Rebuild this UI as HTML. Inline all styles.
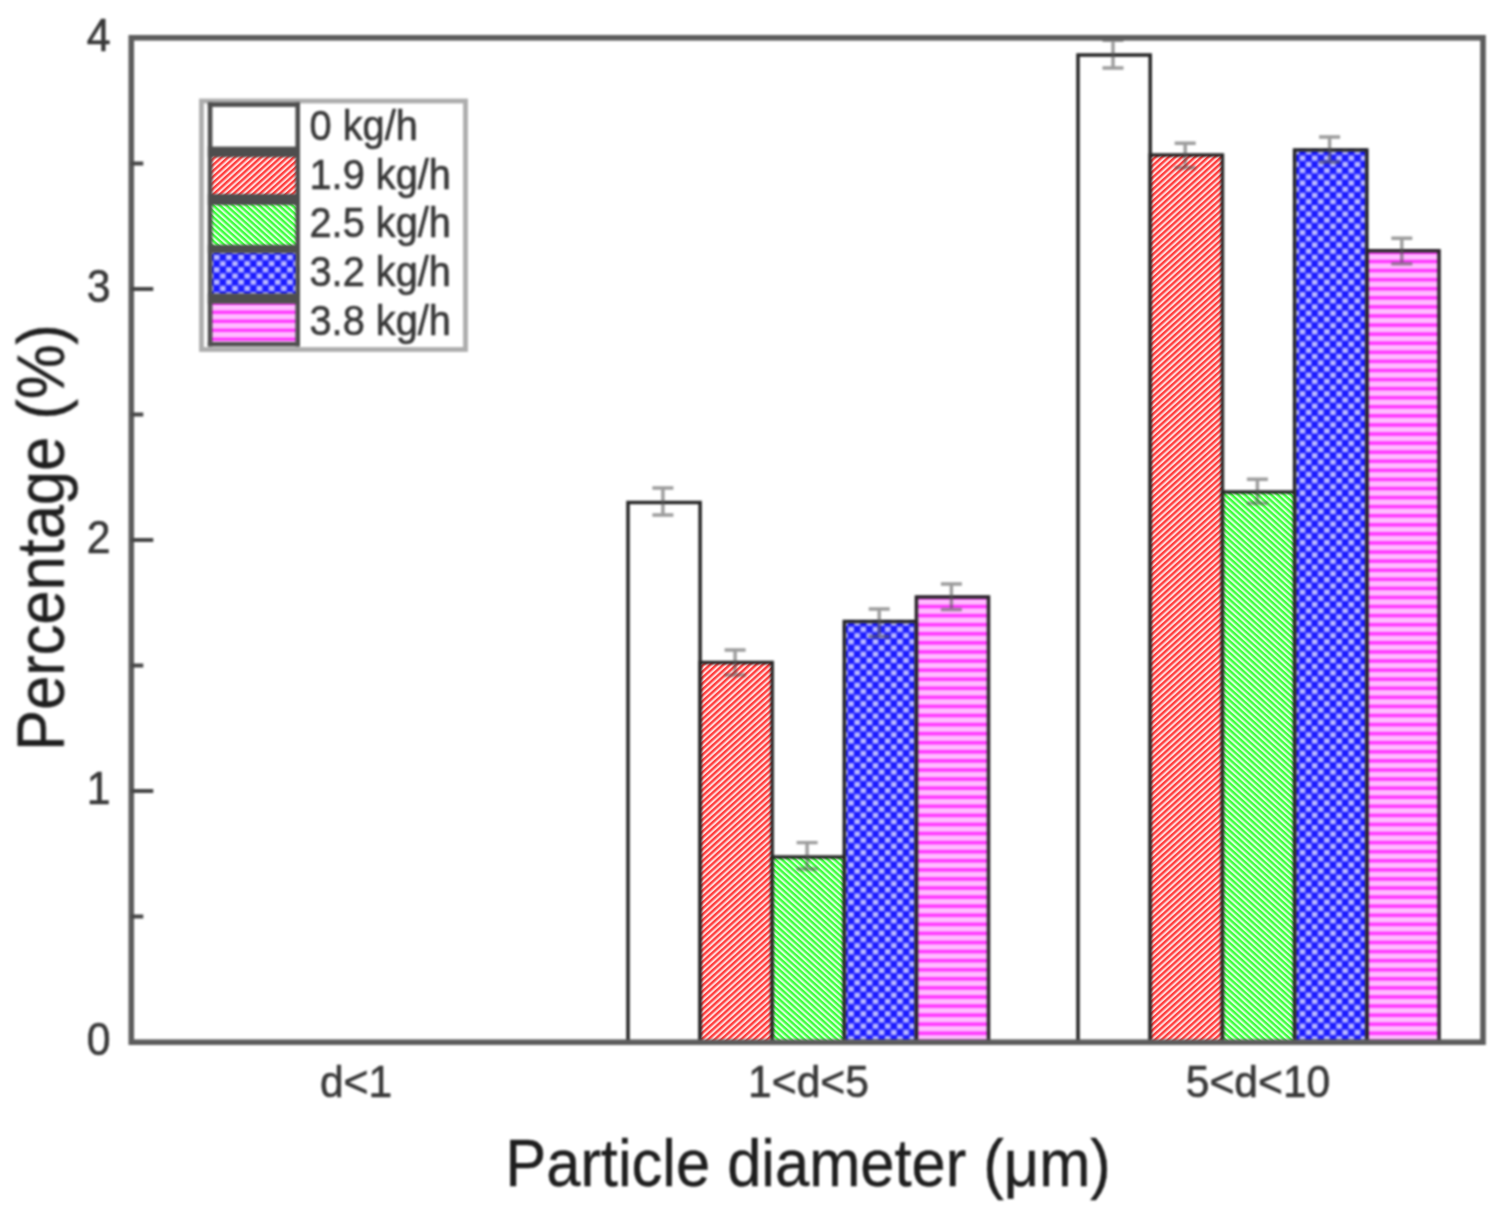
<!DOCTYPE html>
<html lang="en"><head><meta charset="utf-8"><title>Particle diameter percentage chart</title>
<style>
html,body{margin:0;padding:0;background:#fff;}
body{width:1502px;height:1214px;overflow:hidden;}
svg{display:block;font-family:"Liberation Sans",Arial,sans-serif;}
</style></head><body>
<svg width="1502" height="1214" viewBox="0 0 1502 1214">
<defs>
<filter id="bl" x="-2%" y="-2%" width="104%" height="104%" color-interpolation-filters="sRGB"><feGaussianBlur stdDeviation="1.25"/></filter>
<filter id="bf" x="-2%" y="-2%" width="104%" height="104%" color-interpolation-filters="sRGB"><feGaussianBlur stdDeviation="0.8"/></filter>
<filter id="bt" x="-5%" y="-5%" width="110%" height="110%" color-interpolation-filters="sRGB"><feGaussianBlur stdDeviation="1.0"/></filter>
<pattern id="pr" width="4.4" height="4.4" patternUnits="userSpaceOnUse" patternTransform="rotate(-42)"><rect width="4.4" height="4.4" fill="#ffd6d6"/><rect width="4.4" height="2.3" fill="#ff3c3c"/></pattern>
<pattern id="pg" width="4.4" height="4.4" patternUnits="userSpaceOnUse" patternTransform="rotate(42)"><rect width="4.4" height="4.4" fill="#d6ffd6"/><rect width="4.4" height="2.3" fill="#3cff3c"/></pattern>
<pattern id="pb" width="12.2" height="12.4" patternUnits="userSpaceOnUse"><rect width="12.2" height="12.4" fill="#1a1aff"/><rect x="0.4" y="0.6" width="5.6" height="5.2" fill="#bcbcff"/><rect x="6.5" y="6.8" width="5.6" height="5.2" fill="#bcbcff"/></pattern>
<pattern id="pm" width="9.08" height="9.08" patternUnits="userSpaceOnUse"><rect width="9.08" height="9.08" fill="#ffbcff"/><rect y="5.5" width="9.08" height="3.5" fill="#ff34ff"/></pattern>
<pattern id="pm2" width="9" height="9" patternUnits="userSpaceOnUse"><rect width="9" height="9" fill="#ffbcff"/><rect y="4.6" width="9" height="3.3" fill="#ff34ff"/></pattern>
</defs>
<rect width="1502" height="1214" fill="#fff"/>
<g filter="url(#bf)">
<rect x="201.5" y="101" width="264" height="248.5" fill="#fff"/>
<rect x="844.3" y="621.5" width="72.1" height="420.5" fill="url(#pb)"/>
<rect x="916.4" y="597.0" width="72.1" height="445.0" fill="url(#pm)"/>
<rect x="1294.6" y="150.0" width="72.2" height="892.0" fill="url(#pb)"/>
<rect x="1366.8" y="250.8" width="72.2" height="791.2" fill="url(#pm)"/>
<rect x="210" y="251.0" width="87.5" height="44.6" fill="url(#pb)"/>
<rect x="210" y="301.6" width="87.5" height="42.6" fill="url(#pm2)"/>
</g>
<g>
<rect x="700.1" y="662.5" width="72.1" height="379.5" fill="url(#pr)"/>
<rect x="772.2" y="857.0" width="72.1" height="185.0" fill="url(#pg)"/>
<rect x="1150.2" y="155.0" width="72.2" height="887.0" fill="url(#pr)"/>
<rect x="1222.4" y="492.0" width="72.2" height="550.0" fill="url(#pg)"/>
<rect x="210" y="154.9" width="87.5" height="41.3" fill="url(#pr)"/>
<rect x="210" y="202.8" width="87.5" height="44.2" fill="url(#pg)"/>
</g>
<g filter="url(#bl)">
<rect x="628.0" y="502.5" width="72.1" height="539.5" fill="none" stroke="#262626" stroke-width="3.5"/>
<rect x="700.1" y="662.5" width="72.1" height="379.5" fill="none" stroke="#262626" stroke-width="3.5"/>
<rect x="772.2" y="857.0" width="72.1" height="185.0" fill="none" stroke="#262626" stroke-width="3.5"/>
<rect x="844.3" y="621.5" width="72.1" height="420.5" fill="none" stroke="#262626" stroke-width="3.5"/>
<rect x="916.4" y="597.0" width="72.1" height="445.0" fill="none" stroke="#262626" stroke-width="3.5"/>
<path d="M662.9 488.0V515.0M652.4 488.0H673.4M652.4 515.0H673.4" fill="none" stroke="#555" stroke-opacity="0.58" stroke-width="3.4"/>
<path d="M735.1 650.0V675.0M724.6 650.0H745.6M724.6 675.0H745.6" fill="none" stroke="#555" stroke-opacity="0.58" stroke-width="3.4"/>
<path d="M807.1 842.6V869.0M796.6 842.6H817.6M796.6 869.0H817.6" fill="none" stroke="#555" stroke-opacity="0.58" stroke-width="3.4"/>
<path d="M879.2 609.0V636.5M868.7 609.0H889.7M868.7 636.5H889.7" fill="none" stroke="#555" stroke-opacity="0.58" stroke-width="3.4"/>
<path d="M951.4 584.0V609.5M940.9 584.0H961.9M940.9 609.5H961.9" fill="none" stroke="#555" stroke-opacity="0.58" stroke-width="3.4"/>
<rect x="1078.0" y="55.0" width="72.2" height="987.0" fill="none" stroke="#262626" stroke-width="3.5"/>
<rect x="1150.2" y="155.0" width="72.2" height="887.0" fill="none" stroke="#262626" stroke-width="3.5"/>
<rect x="1222.4" y="492.0" width="72.2" height="550.0" fill="none" stroke="#262626" stroke-width="3.5"/>
<rect x="1294.6" y="150.0" width="72.2" height="892.0" fill="none" stroke="#262626" stroke-width="3.5"/>
<rect x="1366.8" y="250.8" width="72.2" height="791.2" fill="none" stroke="#262626" stroke-width="3.5"/>
<path d="M1113.0 40.3V68.0M1102.5 40.3H1123.5M1102.5 68.0H1123.5" fill="none" stroke="#555" stroke-opacity="0.58" stroke-width="3.4"/>
<path d="M1185.2 143.2V167.8M1174.7 143.2H1195.7M1174.7 167.8H1195.7" fill="none" stroke="#555" stroke-opacity="0.58" stroke-width="3.4"/>
<path d="M1257.4 479.3V503.2M1246.9 479.3H1267.9M1246.9 503.2H1267.9" fill="none" stroke="#555" stroke-opacity="0.58" stroke-width="3.4"/>
<path d="M1329.6 137.0V162.0M1319.1 137.0H1340.1M1319.1 162.0H1340.1" fill="none" stroke="#555" stroke-opacity="0.58" stroke-width="3.4"/>
<path d="M1401.8 238.2V263.8M1391.3 238.2H1412.3M1391.3 263.8H1412.3" fill="none" stroke="#555" stroke-opacity="0.58" stroke-width="3.4"/>
<rect x="131.3" y="37.8" width="1351.7" height="1004.4000000000001" fill="none" stroke="#5c5c5c" stroke-width="5.6"/>
<path d="M131.3 916.5h12" stroke="#454545" stroke-width="4" fill="none"/>
<path d="M131.3 791.0h22" stroke="#454545" stroke-width="4" fill="none"/>
<path d="M131.3 665.5h12" stroke="#454545" stroke-width="4" fill="none"/>
<path d="M131.3 540.0h22" stroke="#454545" stroke-width="4" fill="none"/>
<path d="M131.3 414.5h12" stroke="#454545" stroke-width="4" fill="none"/>
<path d="M131.3 289.0h22" stroke="#454545" stroke-width="4" fill="none"/>
<path d="M131.3 163.5h12" stroke="#454545" stroke-width="4" fill="none"/>
<rect x="201.5" y="101" width="264" height="248.5" fill="none" stroke="#adadad" stroke-width="4.8"/>
<rect x="207.8" y="102.4" width="92.2" height="4.5" fill="#4e4e4e"/>
<rect x="207.8" y="146.6" width="92.2" height="10.6" fill="#4e4e4e"/>
<rect x="207.8" y="194.0" width="92.2" height="11.0" fill="#4e4e4e"/>
<rect x="207.8" y="244.8" width="92.2" height="8.4" fill="#4e4e4e"/>
<rect x="207.8" y="293.4" width="92.2" height="10.4" fill="#4e4e4e"/>
<rect x="207.8" y="342.0" width="92.2" height="4.4" fill="#4e4e4e"/>
<rect x="207.8" y="102.4" width="4.6" height="244" fill="#4e4e4e"/>
<rect x="295.4" y="102.4" width="4.6" height="244" fill="#4e4e4e"/>
</g>
<g filter="url(#bt)">
<text transform="translate(309.5 139.8) scale(0.925 1)" font-size="43" fill="#383838" stroke="#383838" stroke-width="0.6">0 kg/h</text>
<text transform="translate(309.5 188.5) scale(0.925 1)" font-size="43" fill="#383838" stroke="#383838" stroke-width="0.6">1.9 kg/h</text>
<text transform="translate(309.5 237.2) scale(0.925 1)" font-size="43" fill="#383838" stroke="#383838" stroke-width="0.6">2.5 kg/h</text>
<text transform="translate(309.5 285.9) scale(0.925 1)" font-size="43" fill="#383838" stroke="#383838" stroke-width="0.6">3.2 kg/h</text>
<text transform="translate(309.5 334.6) scale(0.925 1)" font-size="43" fill="#383838" stroke="#383838" stroke-width="0.6">3.8 kg/h</text>
<text transform="translate(110.5 1055.2) scale(0.93 1)" font-size="46" text-anchor="end" fill="#383838" stroke="#383838" stroke-width="0.6">0</text>
<text transform="translate(110.5 804.2) scale(0.93 1)" font-size="46" text-anchor="end" fill="#383838" stroke="#383838" stroke-width="0.6">1</text>
<text transform="translate(110.5 553.2) scale(0.93 1)" font-size="46" text-anchor="end" fill="#383838" stroke="#383838" stroke-width="0.6">2</text>
<text transform="translate(110.5 302.2) scale(0.93 1)" font-size="46" text-anchor="end" fill="#383838" stroke="#383838" stroke-width="0.6">3</text>
<text transform="translate(110.5 51.2) scale(0.93 1)" font-size="46" text-anchor="end" fill="#383838" stroke="#383838" stroke-width="0.6">4</text>
<text transform="translate(356 1096.6) scale(0.968 1)" font-size="44" text-anchor="middle" fill="#383838" stroke="#383838" stroke-width="0.6">d&lt;1</text>
<text transform="translate(808.5 1096.6) scale(0.968 1)" font-size="44" text-anchor="middle" fill="#383838" stroke="#383838" stroke-width="0.6">1&lt;d&lt;5</text>
<text transform="translate(1258 1096.6) scale(0.968 1)" font-size="44" text-anchor="middle" fill="#383838" stroke="#383838" stroke-width="0.6">5&lt;d&lt;10</text>
<text transform="translate(808 1185.5) scale(0.924 1)" font-size="66.5" text-anchor="middle" fill="#1e1e1e" stroke="#1e1e1e" stroke-width="0.4">Particle diameter (μm)</text>
<text transform="translate(63.7 537.5) rotate(-90) scale(0.924 1)" font-size="66.5" text-anchor="middle" fill="#1e1e1e" stroke="#1e1e1e" stroke-width="0.4">Percentage (%)</text>
</g>
</svg></body></html>
